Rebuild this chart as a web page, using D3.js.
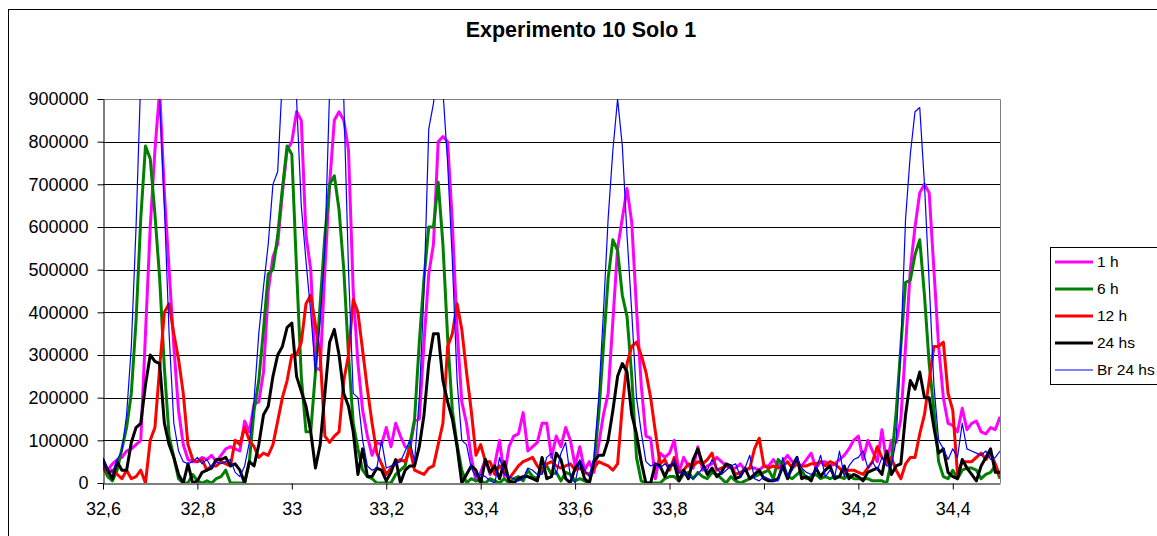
<!DOCTYPE html>
<html>
<head>
<meta charset="utf-8">
<script src="https://cdn.jsdelivr.net/npm/d3@7"></script>
<style>
  body { margin: 0; background: #fff; }
  svg { display: block; font-family: "Liberation Sans", Arial, sans-serif; }
  .axis path, .axis line { stroke: #000; }
  .axis text { font-size: 18px; fill: #000; }
</style>
</head>
<body>
<div id="chart"></div>
<script>
// x runs from 32,6 to 34,5 in steps of 0,01 (191 points per series)
var xStart = 32.6, xStep = 0.01, nPoints = 191;

// series values, in thousands
var h1 = [45,30,45,55,60,75,80,90,100,350,600,780,920,680,500,320,170,90,55,50,
  50,60,55,65,50,65,80,85,80,75,145,120,185,190,260,450,530,560,680,780,
  800,870,850,580,500,270,265,500,700,850,870,850,780,450,280,170,110,65,95,90,
  130,85,140,110,85,80,145,150,330,490,560,800,812,800,610,360,190,140,60,5,
  25,55,20,45,100,15,85,110,115,165,75,85,95,140,140,60,110,85,130,100,
  40,85,30,50,25,90,160,210,380,550,620,690,610,410,230,110,105,10,70,60,
  70,100,25,60,40,35,85,30,40,45,60,50,40,35,35,45,30,35,35,30,
  40,40,55,40,50,65,50,45,40,55,70,35,50,50,40,45,55,65,80,100,
  110,55,100,75,50,125,45,100,95,150,320,500,600,680,700,680,500,320,200,140,
  135,120,175,125,140,145,120,115,130,125,155];

var h6 = [40,15,5,30,80,130,210,380,620,790,760,630,480,270,110,60,10,0,0,20,
  5,0,5,0,10,15,30,0,0,0,0,50,170,240,360,490,500,580,690,790,
  770,500,250,120,120,260,420,580,700,720,640,500,300,140,80,30,15,10,0,0,
  0,0,20,30,40,90,150,330,480,600,600,705,560,340,170,90,30,0,10,5,
  5,0,10,5,0,10,0,10,15,5,30,15,10,35,40,20,25,5,25,20,
  5,10,5,0,45,160,320,480,570,545,440,390,250,60,5,0,0,0,0,10,
  15,15,5,20,25,10,25,15,10,25,20,10,0,15,5,0,5,10,15,20,
  25,30,10,55,45,15,10,20,30,10,15,20,10,15,10,15,15,10,20,10,
  10,10,10,5,5,5,0,50,165,320,470,475,535,570,440,280,170,50,15,10,
  30,10,30,35,35,30,10,20,25,40,10];

var h12 = [45,25,30,20,10,30,10,15,30,0,100,130,270,400,420,350,290,210,90,55,
  50,55,30,40,40,50,45,40,100,90,130,100,85,60,70,65,90,145,200,240,
  300,300,330,420,440,370,300,110,95,110,120,240,300,430,400,310,220,140,70,45,
  20,35,50,55,50,80,30,25,20,35,40,90,140,320,350,420,360,260,170,65,
  90,50,50,20,40,30,10,25,40,50,55,60,40,25,45,50,40,35,40,45,
  30,35,25,20,35,50,45,40,30,45,180,280,320,330,300,260,200,120,45,55,
  30,60,25,30,45,40,50,45,55,70,30,35,40,40,20,25,30,35,80,105,
  40,35,40,35,40,50,35,45,40,40,45,45,50,40,50,45,35,25,30,30,
  25,20,35,50,85,60,50,60,30,10,45,60,60,115,160,240,320,320,330,210,
  170,20,50,50,50,60,70,55,70,45,15];

var h24 = [55,30,10,50,30,30,95,130,140,230,300,285,280,140,90,60,20,0,45,0,
  5,25,30,35,55,55,60,40,45,30,0,50,40,90,160,180,250,300,320,365,
  375,250,215,180,120,35,90,210,330,360,300,210,180,120,20,80,15,15,35,30,
  5,25,55,0,30,40,40,85,160,280,350,350,240,190,150,85,0,20,40,30,
  0,55,25,40,10,50,5,0,10,15,15,10,5,60,10,15,70,55,10,0,
  35,50,10,0,50,65,65,100,170,250,280,260,160,115,50,0,0,45,40,15,
  40,45,5,30,10,55,80,45,20,35,15,25,45,40,10,15,35,10,20,30,
  10,5,5,10,40,10,40,60,10,15,5,35,15,30,40,10,15,40,10,20,
  15,5,25,30,35,20,75,20,40,45,160,240,220,260,200,200,130,70,80,25,
  15,10,55,35,20,5,40,60,80,25,25];

var br24 = [60,30,25,55,75,160,320,600,950,1150,1200,1050,900,650,350,140,75,50,45,50,
  60,45,55,35,50,45,50,55,25,15,40,95,195,350,460,560,700,730,950,1150,
  1200,900,650,520,400,260,380,550,920,1100,1150,900,500,210,200,100,40,30,35,100,
  35,40,45,50,75,100,50,200,450,830,890,1000,920,750,520,240,100,90,35,15,
  20,15,5,0,60,20,15,10,5,10,35,30,20,20,60,70,20,70,95,15,
  0,55,30,15,60,200,400,620,780,900,790,580,400,200,120,50,40,45,35,45,
  35,55,25,25,15,10,20,35,30,55,35,20,30,40,45,15,35,65,10,5,
  15,10,5,5,60,15,30,60,35,25,20,30,65,15,30,15,75,15,40,55,
  60,75,35,50,30,60,40,40,100,320,620,770,870,880,700,470,230,100,80,55,
  80,60,140,80,75,70,65,75,55,60,75];

var seriesNames = ["1 h", "6 h", "12 h", "24 hs", "Br 24 hs"];
var seriesData = [h1, h6, h12, h24, br24];
var seriesColors = ["#ff00ff", "#008000", "#ff0000", "#000000", "#0000ff"];
var seriesWidths = [3, 3, 3, 3, 1.2];

var xTicks = [32.6, 32.8, 33.0, 33.2, 33.4, 33.6, 33.8, 34.0, 34.2, 34.4];
var yTicks = [0, 100000, 200000, 300000, 400000, 500000, 600000, 700000, 800000, 900000];

var W = 1157, H = 536;
var plot = { left: 103, right: 1000, top: 99, bottom: 483 };

var svg = d3.select("#chart")
  .append("svg")
  .attr("width", W)
  .attr("height", H);

// chart area border (runs off the right and bottom of the picture)
svg.append("rect")
  .attr("x", 8.5).attr("y", 9.5)
  .attr("width", W + 10).attr("height", H + 10)
  .attr("fill", "#fff")
  .attr("stroke", "#000")
  .attr("stroke-width", 1);

var x = d3.scaleLinear()
  .domain([32.6, 34.5])
  .range([plot.left, plot.right]);

var y = d3.scaleLinear()
  .domain([0, 900000])
  .range([plot.bottom, plot.top]);

// title
svg.append("text")
  .attr("x", 581)
  .attr("y", 37)
  .attr("text-anchor", "middle")
  .attr("font-size", "21.5px")
  .attr("font-weight", "bold")
  .text("Experimento 10 Solo 1");

// horizontal gridlines
svg.append("g")
  .selectAll("line")
  .data(yTicks.slice(1, -1))
  .enter().append("line")
  .attr("x1", plot.left).attr("x2", plot.right)
  .attr("y1", function(d) { return Math.round(y(d)) + 0.5; })
  .attr("y2", function(d) { return Math.round(y(d)) + 0.5; })
  .attr("stroke", "#000")
  .attr("stroke-width", 1);

// plot area border, top and right
svg.append("path")
  .attr("d", "M" + plot.left + "," + (plot.top + 0.5) + "H" + (plot.right + 0.5) + "V" + plot.bottom)
  .attr("fill", "none")
  .attr("stroke", "#808080")
  .attr("stroke-width", 1);

// clip the lines to the plot area
svg.append("clipPath")
  .attr("id", "plotclip")
  .append("rect")
  .attr("x", plot.left).attr("y", plot.top)
  .attr("width", plot.right - plot.left).attr("height", plot.bottom - plot.top);

var line = d3.line()
  .x(function(d, i) { return x(xStart + i * xStep); })
  .y(function(d) { return y(d * 1000); });

var lines = svg.append("g").attr("clip-path", "url(#plotclip)");

seriesData.forEach(function(values, k) {
  lines.append("path")
    .datum(values.slice(0, nPoints))
    .attr("fill", "none")
    .attr("stroke", seriesColors[k])
    .attr("stroke-width", seriesWidths[k])
    .attr("stroke-linejoin", "round")
    .attr("d", line);
});

// axes
var fmtX = function(d) { return String(+d.toFixed(1)).replace(".", ","); };

svg.append("g")
  .attr("class", "axis")
  .attr("transform", "translate(0," + (plot.bottom + 0.5) + ")")
  .call(d3.axisBottom(x).tickValues(xTicks).tickFormat(fmtX).tickSize(6).tickSizeOuter(0).tickPadding(13));

svg.append("g")
  .attr("class", "axis")
  .attr("transform", "translate(" + (plot.left + 0.5) + ",0)")
  .call(d3.axisLeft(y).tickValues(yTicks).tickFormat(d3.format("d")).tickSize(6).tickSizeOuter(0).tickPadding(9));

// legend
var legend = svg.append("g");

legend.append("rect")
  .attr("x", 1050.5).attr("y", 247.5)
  .attr("width", 120).attr("height", 137)
  .attr("fill", "#fff")
  .attr("stroke", "#000")
  .attr("stroke-width", 1);

seriesNames.forEach(function(name, k) {
  var ly = 262 + k * 27;
  legend.append("line")
    .attr("x1", 1055).attr("x2", 1093)
    .attr("y1", ly).attr("y2", ly)
    .attr("stroke", seriesColors[k])
    .attr("stroke-width", seriesWidths[k]);
  legend.append("text")
    .attr("x", 1097)
    .attr("y", ly)
    .attr("dy", "0.35em")
    .attr("font-size", "15.5px")
    .text(name);
});
</script>
</body>
</html>
